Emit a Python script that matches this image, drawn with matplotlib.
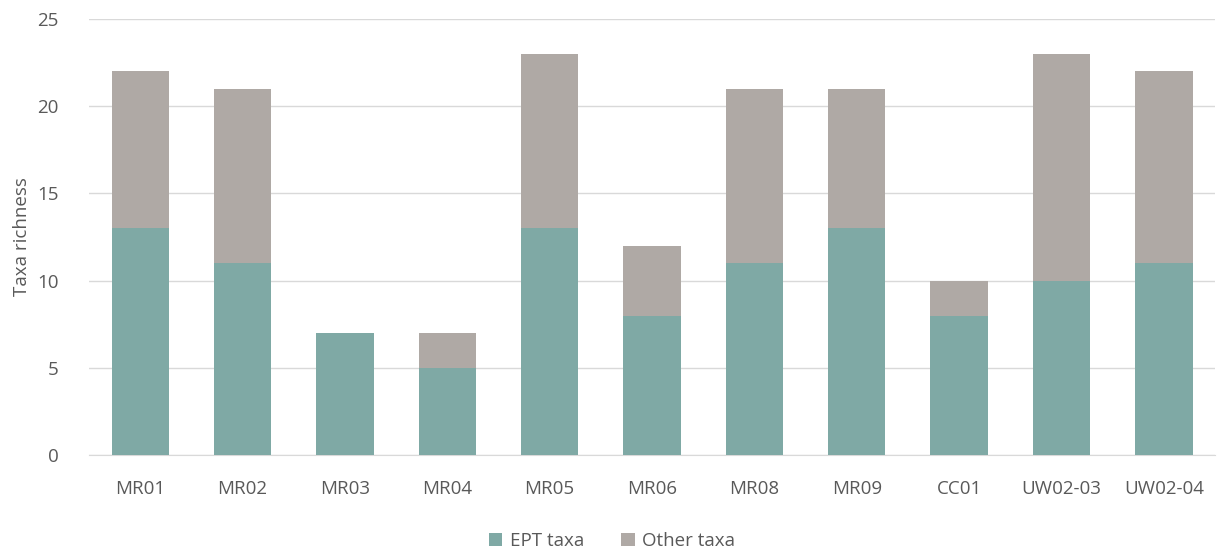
import numpy as np
import matplotlib.pyplot as plt

plt.rcParams['font.family'] = ['Open Sans', 'DejaVu Sans']

sites = ['MR01', 'MR02', 'MR03', 'MR04', 'MR05', 'MR06', 'MR08', 'MR09', 'CC01', 'UW02-03', 'UW02-04']
ept = [13, 11, 7, 5, 13, 8, 11, 13, 8, 10, 11]
other = [9, 10, 0, 2, 10, 4, 10, 8, 2, 13, 11]

teal = '#7FA9A5'
grey = '#AFA9A5'
txt = '#595959'

fig = plt.figure(figsize=(12.24, 5.55), dpi=100)
ax = fig.add_axes([0.0727, 0.180, 0.92, 0.786])

x = np.arange(len(sites))
w = 0.56
ax.bar(x, ept, w, color=teal, label='EPT taxa', zorder=3)
ax.bar(x, other, w, bottom=ept, color=grey, label='Other taxa', zorder=3)

ax.set_xlim(-0.5, len(sites) - 0.5)
ax.set_ylim(0, 25)
ax.set_yticks(range(0, 26, 5))
ax.set_xticks(x)
ax.set_xticklabels(sites)
ax.yaxis.grid(True, color='#D9D9D9', linewidth=1, zorder=0)
for s in ['top', 'right', 'left']:
    ax.spines[s].set_visible(False)
ax.spines['bottom'].set_color('#D9D9D9')
ax.tick_params(axis='both', length=0, colors=txt, labelsize=13.5)
ax.tick_params(axis='x', pad=18)
ax.tick_params(axis='y', pad=22)
ax.set_ylabel('Taxa richness', color=txt, fontsize=13.5, labelpad=4)

# legend centred on the figure, below the axis labels
fig.legend(loc='center', bbox_to_anchor=(0.5, 0.025), ncol=2, frameon=False,
           fontsize=13.5, labelcolor=txt, handlelength=0.7, handleheight=0.7,
           handletextpad=0.4, columnspacing=2.0)

fig.savefig('out.png', dpi=100)
